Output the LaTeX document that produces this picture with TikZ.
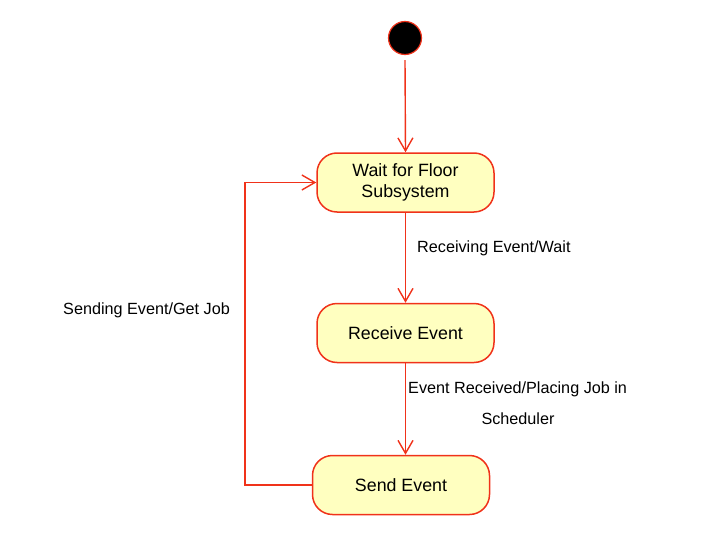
\documentclass[tikz,border=0pt]{standalone}
\usepackage{fontspec}
\setmainfont{Liberation Sans}
\usetikzlibrary{arrows.meta}
\definecolor{umlred}{HTML}{F0321A}
\definecolor{umlfill}{HTML}{FFFFC0}
\tikzset{
  state/.style={draw=umlred, fill=umlfill, line width=1.5pt, rounded corners=20pt,
    minimum width=177pt, minimum height=59pt, align=center, font=\fontsize{17.8}{21}\selectfont, inner sep=2pt},
  trans/.style={draw=umlred, line width=1.4pt, -{Straight Barb[length=13pt,width=15pt,line width=1.4pt]}},
  lbl/.style={font=\fontsize{16.2}{19}\selectfont, inner sep=0pt}
}
\begin{document}
\begin{tikzpicture}[x=1pt,y=-1pt]
\useasboundingbox (0,0) rectangle (714,559);
\node[circle, fill=black, draw=umlred, line width=1.2pt, minimum size=33pt, inner sep=0pt] (start) at (405,38) {};
\node[state] (wait) at (405.5,182.5) {Wait for Floor\\Subsystem};
\node[state] (recv) at (405.5,333) {Receive Event};
\node[state] (send) at (401,485) {Send Event};
\coordinate (c1) at (245,485);
\coordinate (c2) at (245,182.5);
\draw[trans] (start.south) ++(0,5) -- (wait.north);
\draw[trans] (wait.south) -- (recv.north);
\draw[trans] (recv.south) -- (recv.south |- send.north);
\draw[trans] (send.west) -- (c1) -- (c2) -- (wait.west);
\node[lbl, anchor=west] (l1) at (417,248.5) {Receiving Event/Wait};
\node[lbl, anchor=west] (l2) at (408,389.5) {Event Received/Placing Job in};
\node[lbl] (l3) at (518,418.5) {Scheduler};
\node[lbl, anchor=west] (l4) at (63,310.5) {Sending Event/Get Job};
\end{tikzpicture}
\end{document}
